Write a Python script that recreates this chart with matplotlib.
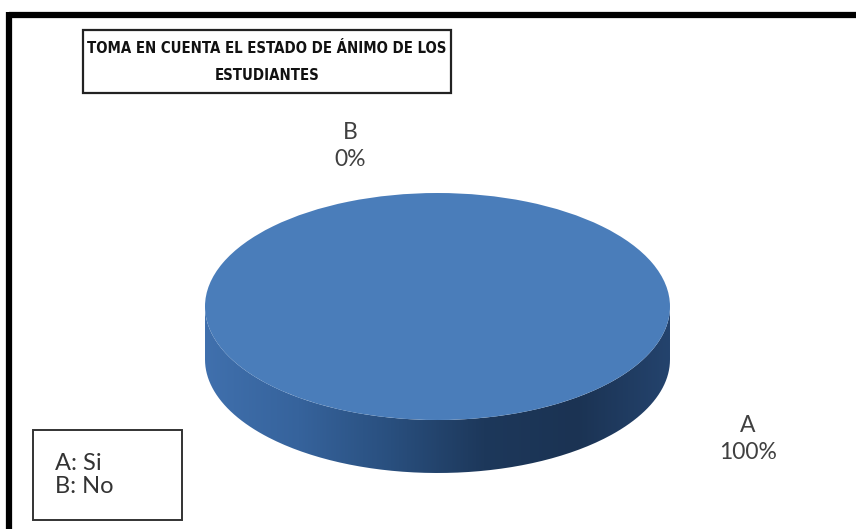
import matplotlib
matplotlib.use("Agg")
import matplotlib.pyplot as plt
import numpy as np
from matplotlib.patches import Rectangle, PathPatch
from matplotlib.path import Path
from matplotlib.colors import LinearSegmentedColormap

# data
categorias = ["A", "B"]
porcentajes = [100, 0]
leyenda = ["A: Si", "B: No"]
titulo = "TOMA EN CUENTA EL ESTADO DE ÁNIMO DE LOS\nESTUDIANTES"

W, H = 856, 529
fig = plt.figure(figsize=(W / 100, H / 100), dpi=100)
fig.patch.set_facecolor("white")

# base axes in pixel coords
base = fig.add_axes([0, 0, 1, 1])
base.set_xlim(0, W)
base.set_ylim(H, 0)
base.axis("off")

# black frame (top and left only visible)
base.plot([9, W + 5], [14.5, 14.5], color="black", lw=4.5, solid_capstyle="butt")
base.plot([9.5, 9.5], [12, H + 5], color="black", lw=4.5, solid_capstyle="butt")

# title box
base.add_patch(Rectangle((83, 30), 368, 63, fill=False, ec="#222222", lw=1.6))
base.text(267, 62, titulo, ha="center", va="center", fontsize=10.7,
          fontweight="bold", family=["DejaVu Sans", "Liberation Sans"],
          fontstretch="condensed", color="#111111", linespacing=1.95)

# legend box
base.add_patch(Rectangle((33, 430), 149, 90, fill=False, ec="#333333", lw=1.4))
base.text(55, 475, "\n".join(leyenda), ha="left", va="center", fontsize=17,
          family="Lato", color="#333333", linespacing=1.12)

# pie axes (ellipse stretched by auto aspect)
x0, x1 = 205, 670
y_top, y_ell_bot, y_side_bot = 193, 420, 473
depth = (y_side_bot - y_ell_bot) / (y_ell_bot - y_top) * 2
pax = fig.add_axes([x0 / W, 1 - y_side_bot / H, (x1 - x0) / W,
                    (y_side_bot - y_top) / H])
pax.axis("off")

# side of the cylinder with gradient
t = np.linspace(np.pi, 2 * np.pi, 200)
xs = np.concatenate([np.cos(t), np.cos(t[::-1])])
ys = np.concatenate([np.sin(t) - depth, np.sin(t[::-1])])
side = Path(np.column_stack([xs, ys]))
patch = PathPatch(side, facecolor="none", edgecolor="none")
pax.add_patch(patch)
cmap = LinearSegmentedColormap.from_list(
    "side", ["#4070ad", "#36639c", "#294f7e", "#1d385b", "#1b3353", "#24436d"])
grad = np.linspace(0, 1, 256).reshape(1, -1)
im = pax.imshow(grad, cmap=cmap, extent=[-1, 1, -1 - depth, 0], aspect="auto",
                zorder=1)
im.set_clip_path(patch)

# top face from the data
wedges, _ = pax.pie(porcentajes, colors=["#4a7dba", "#c0504d"], startangle=90,
                    counterclock=False, radius=1, wedgeprops=dict(lw=0))
for w in wedges:
    w.set_zorder(2)
pax.set_xlim(-1, 1)
pax.set_ylim(-1 - depth, 1)
pax.set_aspect("auto")

# data labels
lab_pos = {"A": (748, 439), "B": (350, 146)}
for c, v in zip(categorias, porcentajes):
    px, py = lab_pos[c]
    base.text(px, py, f"{c}\n{v}%", ha="center", va="center", fontsize=16.5,
              family="Lato", color="#404040", linespacing=1.3)

fig.savefig("out.png", dpi=100, facecolor="white")
